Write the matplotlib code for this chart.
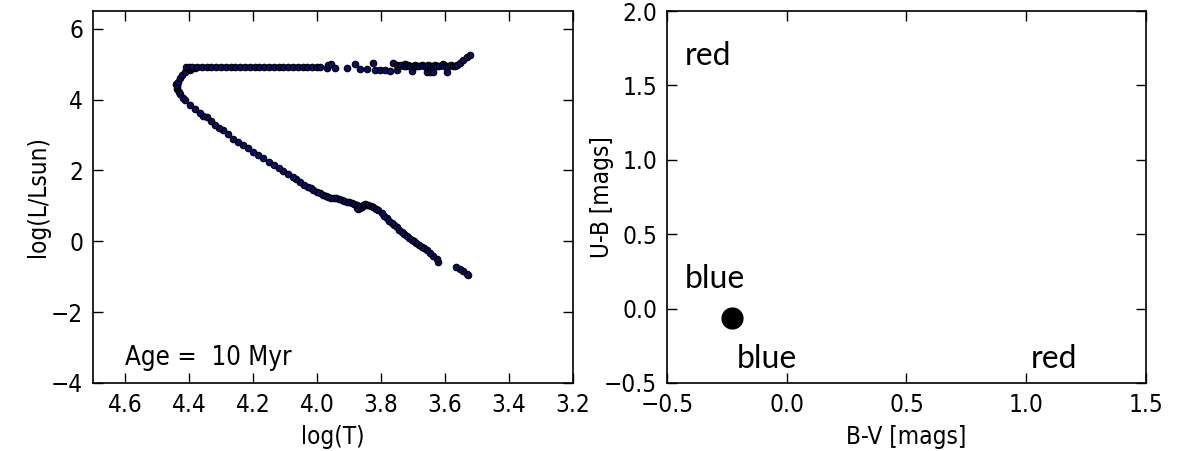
import matplotlib
matplotlib.use("Agg")
import matplotlib.pyplot as plt

# isochrone at 10 Myr, ordered from the low-mass end up to the red end
log_t = [3.527, 3.532, 3.543, 3.553, 3.564,
         3.621, 3.626, 3.636, 3.647, 3.657, 3.665, 3.673, 3.681, 3.689, 3.697, 3.704,
         3.712, 3.720, 3.728, 3.735, 3.743, 3.751, 3.759, 3.767, 3.775, 3.782, 3.790,
         3.798, 3.808, 3.816, 3.824, 3.832, 3.840, 3.845, 3.850, 3.855, 3.860, 3.866,
         3.871, 3.875, 3.876, 3.884, 3.892, 3.900, 3.907, 3.915, 3.923, 3.931, 3.939,
         3.948, 3.955, 3.965, 3.972, 3.980, 3.991, 4.001, 4.011, 4.019, 4.027, 4.040,
         4.053, 4.064, 4.074, 4.090, 4.105, 4.120, 4.135, 4.150, 4.168, 4.184, 4.199,
         4.215, 4.230, 4.246, 4.262, 4.278, 4.293, 4.306, 4.319, 4.332, 4.345, 4.356,
         4.366, 4.382, 4.397, 4.413, 4.420, 4.428, 4.432, 4.437, 4.438, 4.440, 4.436,
         4.433, 4.428, 4.423, 4.413, 4.397,
         4.400, 4.390, 4.380,
         4.410, 4.400, 4.390, 4.375, 4.360, 4.345, 4.330, 4.315, 4.300, 4.285, 4.270,
         4.255, 4.240, 4.225, 4.210, 4.195, 4.180, 4.165, 4.150, 4.135, 4.120, 4.105,
         4.090, 4.075, 4.060, 4.045, 4.030, 4.015, 4.000, 3.990,
         3.968, 3.965, 3.955, 3.944, 3.907, 3.881, 3.866, 3.845, 3.824, 3.819, 3.803,
         3.787, 3.772, 3.762, 3.751, 3.725, 3.704, 3.657, 3.647, 3.637, 3.605, 3.595,
         3.750, 3.743, 3.736, 3.729, 3.722, 3.715, 3.708, 3.701, 3.694, 3.687, 3.680,
         3.673, 3.666, 3.659, 3.652, 3.645, 3.638, 3.631, 3.624, 3.617, 3.610, 3.603,
         3.596, 3.589, 3.582, 3.575, 3.568, 3.561,
         3.553, 3.543, 3.532, 3.522]
log_l = [-0.95, -0.91, -0.83, -0.77, -0.72,
         -0.58, -0.51, -0.42, -0.34, -0.25, -0.20, -0.15, -0.10, -0.06, 0.00, 0.05,
         0.10, 0.15, 0.21, 0.27, 0.33, 0.39, 0.45, 0.52, 0.58, 0.65, 0.72,
         0.79, 0.88, 0.92, 0.96, 0.99, 1.02, 1.03, 1.04, 1.01, 0.97, 0.93,
         0.90, 0.95, 1.02, 1.05, 1.07, 1.10, 1.12, 1.14, 1.16, 1.18, 1.21,
         1.22, 1.23, 1.26, 1.28, 1.30, 1.35, 1.40, 1.46, 1.49, 1.52, 1.60,
         1.68, 1.75, 1.82, 1.90, 1.98, 2.07, 2.15, 2.24, 2.34, 2.43, 2.52,
         2.62, 2.71, 2.80, 2.90, 3.02, 3.14, 3.21, 3.28, 3.39, 3.50, 3.55,
         3.61, 3.72, 3.84, 3.98, 4.05, 4.17, 4.22, 4.30, 4.36, 4.45, 4.41,
         4.50, 4.60, 4.69, 4.78, 4.83,
         4.87, 4.88, 4.89,
         4.93, 4.93, 4.93, 4.93, 4.93, 4.93, 4.93, 4.93, 4.93, 4.93, 4.93,
         4.93, 4.93, 4.93, 4.93, 4.93, 4.93, 4.93, 4.93, 4.93, 4.93, 4.93,
         4.93, 4.93, 4.93, 4.93, 4.93, 4.93, 4.93, 4.93,
         4.88, 4.98, 5.00, 4.88, 4.88, 5.00, 4.86, 4.86, 5.02, 4.84, 4.84,
         4.83, 4.82, 5.04, 4.84, 5.00, 4.81, 4.78, 4.78, 4.78, 5.00, 4.78,
         4.97, 4.96, 4.97, 4.95, 4.96, 4.97, 4.96, 4.95, 4.97, 4.96, 4.95,
         4.97, 4.96, 4.95, 4.97, 4.96, 4.96, 4.97, 4.95, 4.96, 4.97, 4.96,
         4.95, 4.96, 4.97, 4.96, 4.96, 4.97,
         5.02, 5.11, 5.20, 5.27]
age_myr = 10

# colour-colour point
b_v = [-0.23]
u_b = [-0.065]

plt.rcParams['font.family'] = 'DejaVu Sans'
plt.rcParams['font.stretch'] = 'condensed'
plt.rcParams['font.size'] = 17.5

fig = plt.figure(figsize=(11.84, 4.51), dpi=100)
ax1 = fig.add_axes([0.0785, 0.1508, 0.4054, 0.8248])
ax2 = fig.add_axes([0.5633, 0.1508, 0.4046, 0.8248])

ax1.scatter(log_t, log_l, s=22, c='#0c0c66', edgecolors='k', linewidths=0.8, zorder=3)
ax1.set_xlim(4.7, 3.2)
ax1.set_ylim(-4, 6.5)
ax1.set_xticks([4.6, 4.4, 4.2, 4.0, 3.8, 3.6, 3.4, 3.2])
ax1.set_yticks([-4, -2, 0, 2, 4, 6])
ax1.set_xlabel('log(T)', labelpad=6)
ax1.set_ylabel('log(L/Lsun)', labelpad=1)
ax1.text(4.6, -3.48, 'Age = %3i Myr' % age_myr, fontsize=18.5)

ax2.plot(b_v, u_b, 'ko', markersize=15)
ax2.set_xlim(-0.5, 1.5)
ax2.set_ylim(-0.5, 2.0)
ax2.set_xticks([-0.5, 0.0, 0.5, 1.0, 1.5])
ax2.set_yticks([-0.5, 0.0, 0.5, 1.0, 1.5, 2.0])
ax2.set_xlabel('B-V [mags]', labelpad=6)
ax2.set_ylabel('U-B [mags]', labelpad=-7)

ann = dict(fontsize=23, family='Lato', stretch='normal')
ax2.text(-0.425, 1.64, 'red', **ann)
ax2.text(-0.425, 0.14, 'blue', **ann)
ax2.text(-0.21, -0.40, 'blue', **ann)
ax2.text(1.02, -0.40, 'red', **ann)

for ax in (ax1, ax2):
    ax.tick_params(direction='in', length=7, width=1, top=True, right=True, pad=7)
    for sp in ax.spines.values():
        sp.set_linewidth(1.2)

fig.savefig('out.png', dpi=100, facecolor='white')
